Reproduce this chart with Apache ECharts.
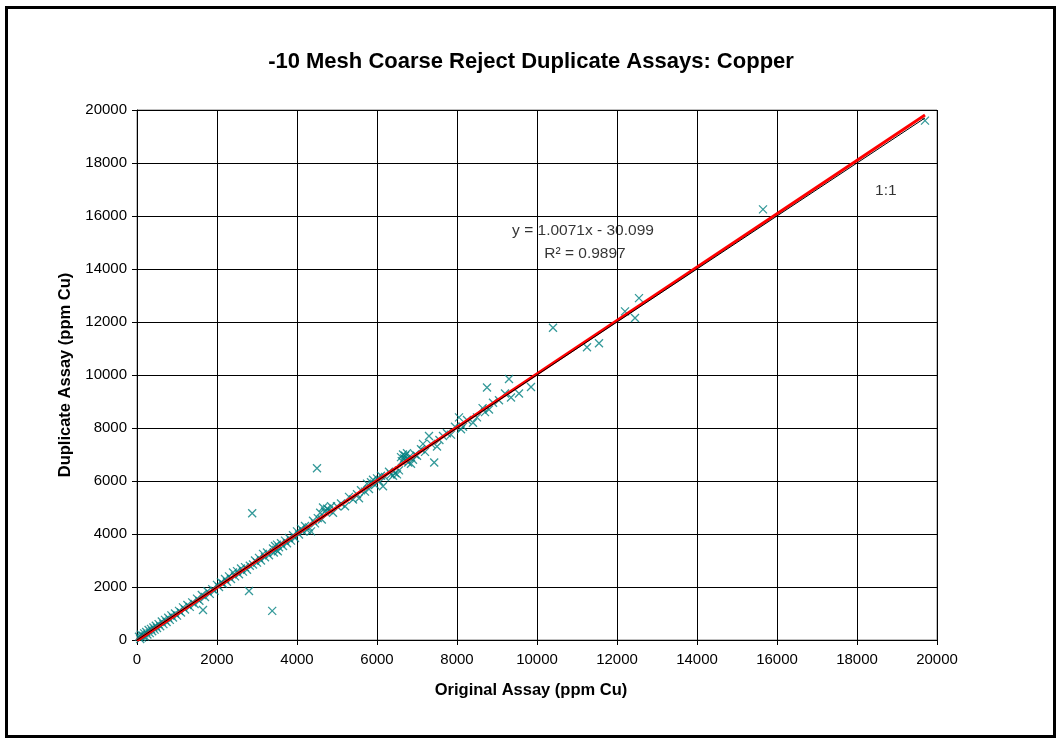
<!DOCTYPE html>
<html>
<head>
<meta charset="utf-8">
<script src="https://cdn.jsdelivr.net/npm/echarts@6/dist/echarts.min.js"></script>
<style>html,body{margin:0;padding:0;background:#fff;}#c{width:1062px;height:740px;}</style>
</head>
<body>
<div id="c"></div>
<script>
var titleText = '-10 Mesh Coarse Reject Duplicate Assays: Copper';
var xAxisName = 'Original Assay (ppm Cu)';
var yAxisName = 'Duplicate Assay (ppm Cu)';
var axisMin = 0, axisMax = 20000, axisStep = 2000;

// [original, duplicate]
var assays0to2000 = [[50,120],[80,40],[100,200],[120,90],[150,160],[180,250],[200,130],[230,300],[260,210],[290,380],[320,260],[350,420],[380,330],[410,470],[440,390],[470,540],[500,450],[540,600],[580,520],[620,700],[660,600],[700,760],[740,680],[780,840],[820,760],[860,930],[900,850],[950,1000],[1000,920],[1050,1100],[1100,1040],[1150,1230],[1200,1150],[1260,1320],[1320,1250],[1380,1420],[1440,1360],[1500,1560],[1560,1480],[1620,1700],[1650,1130],[1700,1620],[1760,1840],[1820,1740],[1880,1920],[1940,1860],[2000,2080]];
var assays2000to4000 = [[2050,2000],[2100,2180],[2150,2120],[2200,2300],[2250,2200],[2300,2400],[2350,2300],[2400,2550],[2450,2400],[2500,2600],[2550,2480],[2600,2700],[2650,2580],[2700,2750],[2750,2650],[2800,1850],[2820,2800],[2880,4780],[2900,2850],[2950,3000],[3000,2920],[3050,3100],[3100,3000],[3150,3250],[3200,3120],[3250,3300],[3300,3200],[3380,1100],[3400,3450],[3420,3300],[3450,3550],[3480,3400],[3500,3600],[3520,3350],[3550,3500],[3600,3650],[3650,3550],[3700,3750],[3750,3650],[3800,3850],[3850,3750],[3900,3950],[3950,3850],[4000,4100]];
var assays4000to6400 = [[4050,3980],[4100,4200],[4150,4100],[4200,4300],[4250,4150],[4300,4250],[4350,4100],[4400,4500],[4450,4400],[4500,6480],[4520,4600],[4580,4800],[4620,4550],[4650,5000],[4700,4850],[4750,4950],[4800,4900],[4850,5050],[4900,4800],[5000,5050],[5100,5150],[5200,5050],[5300,5400],[5400,5300],[5500,5500],[5550,5350],[5600,5650],[5700,5600],[5750,5900],[5800,5700],[5850,5950],[5900,6050],[5950,5850],[6000,6100],[6050,6000],[6150,5800],[6100,6200],[6200,6150],[6300,6350],[6350,6250]];
var assaysAbove6400 = [[6400,6200],[6450,6300],[6500,6250],[6550,6400],[6600,6900],[6620,6750],[6650,7000],[6680,6850],[6700,6950],[6720,6800],[6750,7050],[6780,6700],[6800,6900],[6850,6650],[6900,6800],[6950,7000],[7000,6950],[7100,7200],[7150,7400],[7200,7100],[7300,7700],[7350,7400],[7430,6700],[7500,7300],[7560,7550],[7650,7700],[7750,7800],[7850,7750],[7950,8050],[8050,8400],[8100,7950],[8150,8050],[8250,8300],[8400,8200],[8500,8400],[8640,8750],[8700,8600],[8750,9530],[8800,8700],[8900,8950],[9050,9050],[9200,9300],[9300,9850],[9350,9150],[9550,9300],[9850,9550],[10400,11780],[11250,11050],[11550,11200],[12200,12400],[12450,12150],[12550,12900],[15650,16250],[19700,19600]];

var trendSlope = 1.0071, trendIntercept = -30.099;
var lineX = [0, 19700];
var eqText = 'y = 1.0071x - 30.099';
var r2Text = 'R² = 0.9897';
var oneText = '1:1';
// annotation anchors in data units
var eqPos = [11150, 15430];
var r2Pos = [11200, 14570];
var onePos = [18720, 16940];

var allAssays = assays0to2000.concat(assays2000to4000, assays4000to6400, assaysAbove6400);
var oneToOne = lineX.map(function(x){return [x, x];});
var trend = lineX.map(function(x){return [x, trendSlope*x + trendIntercept];});

var FF = 'Arial, "Liberation Sans", sans-serif';
var chart = echarts.init(document.getElementById('c'), null, {renderer:'canvas'});
chart.setOption({
  animation:false,
  backgroundColor:'#fff',
  title:{text:titleText,left:'center',top:46,textStyle:{fontFamily:FF,fontSize:22,fontWeight:'bold',color:'#000'}},
  grid:{left:137,right:125,top:110,bottom:100,show:true,borderColor:'#808080',borderWidth:1,backgroundColor:'#fff'},
  xAxis:{type:'value',min:axisMin,max:axisMax,interval:axisStep,
    name:xAxisName,nameLocation:'middle',nameGap:42,
    nameTextStyle:{fontFamily:FF,fontSize:16.5,fontWeight:'bold',color:'#000',padding:[0,12,0,0]},
    axisLine:{show:true,onZero:false,lineStyle:{color:'#000',width:1}},
    axisTick:{show:true,length:5,inside:false,lineStyle:{color:'#000'}},
    axisLabel:{fontFamily:FF,fontSize:15,color:'#000',margin:12,formatter:function(v){return String(v);}},
    splitLine:{show:true,lineStyle:{color:'#000',width:1}}},
  yAxis:{type:'value',min:axisMin,max:axisMax,interval:axisStep,
    name:yAxisName,nameLocation:'middle',nameGap:62,nameRotate:90,
    nameTextStyle:{fontFamily:FF,fontSize:16.5,fontWeight:'bold',color:'#000'},
    axisLine:{show:true,onZero:false,lineStyle:{color:'#000',width:1}},
    axisTick:{show:true,length:5,inside:false,lineStyle:{color:'#000'}},
    axisLabel:{fontFamily:FF,fontSize:15,color:'#000',margin:10,formatter:function(v){return String(v);}},
    splitLine:{show:true,lineStyle:{color:'#000',width:1}}},
  graphic:[{type:'rect',shape:{x:6.5,y:7.5,width:1048,height:729},style:{fill:'none',stroke:'#000',lineWidth:3},silent:true,z:100}],
  series:[
    {type:'scatter',data:allAssays,symbol:'path://M0,0L10,10M10,0L0,10',symbolSize:8,
      itemStyle:{color:'rgba(0,0,0,0)',borderColor:'#008080',borderWidth:1.3},z:2},
    {type:'line',data:trend,showSymbol:false,symbol:'none',lineStyle:{color:'#ff0000',width:3},z:3},
    {type:'line',data:oneToOne,showSymbol:false,symbol:'none',lineStyle:{color:'#000',width:1},z:4},
    {type:'scatter',symbolSize:0,z:5,
      data:[{value:eqPos,label:{formatter:eqText}},{value:r2Pos,label:{formatter:r2Text}},{value:onePos,label:{formatter:oneText}}],
      label:{show:true,position:'inside',fontFamily:FF,fontSize:15.5,color:'#000'}}
  ]
});
</script>
</body>
</html>
